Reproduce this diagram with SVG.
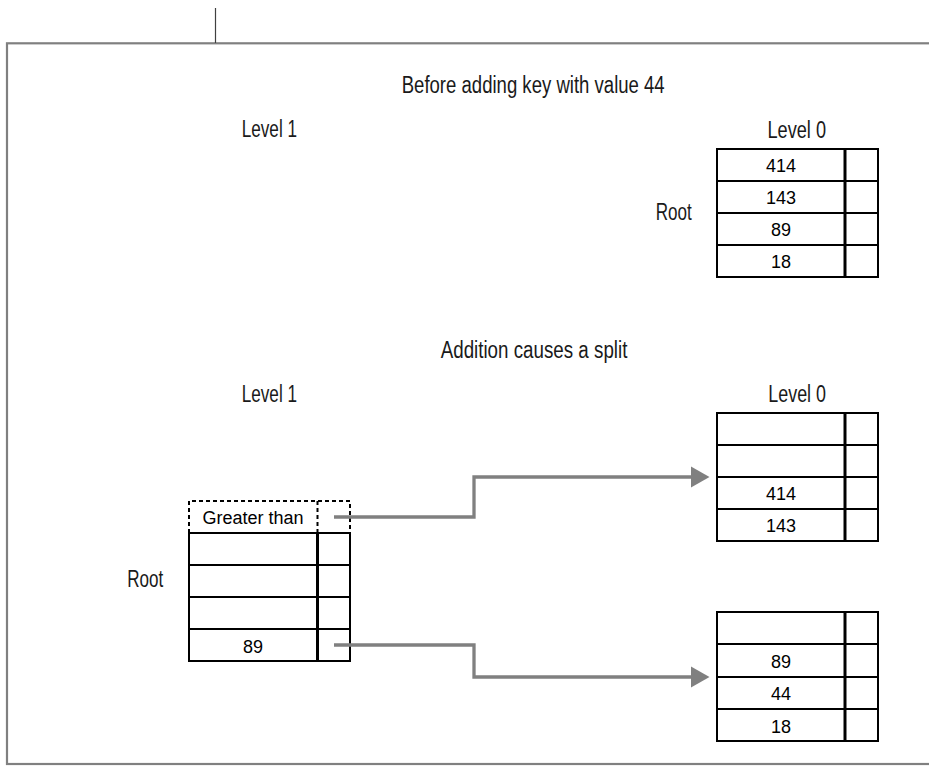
<svg xmlns="http://www.w3.org/2000/svg" width="929" height="768" viewBox="0 0 929 768">
<style>
.lbl{font-family:"Liberation Sans Narrow","Liberation Sans",Arial,sans-serif;font-size:23px;fill:#1a1a1a}
.cell{font-family:"Liberation Sans",Arial,sans-serif;font-size:18px;fill:#000;text-anchor:middle}
.box{fill:#fff;stroke:#000;stroke-width:2}
.row{stroke:#000;stroke-width:2;fill:none}
.div{stroke:#000;stroke-width:3;fill:none}
.dash{stroke:#000;stroke-width:2;fill:none;stroke-dasharray:4 3}
.conn{stroke:#808080;stroke-width:3.3;fill:none}
.head{fill:#808080}
</style>
<rect width="929" height="768" fill="#fff"/>
<g id="frame">
<rect x="7" y="43.3" width="940" height="720.7" fill="none" stroke="#808080" stroke-width="2.2"/>
<line x1="215.5" y1="8" x2="215.5" y2="43" stroke="#404040" stroke-width="1.2"/>
</g>
<g id="labels">
<text class="lbl" x="401.7" y="93.3" textLength="263" lengthAdjust="spacingAndGlyphs">Before adding key with value 44</text>
<text class="lbl" x="241.7" y="136.7" textLength="55.3" lengthAdjust="spacingAndGlyphs">Level 1</text>
<text class="lbl" x="767.5" y="138" textLength="58.5" lengthAdjust="spacingAndGlyphs">Level 0</text>
<text class="lbl" x="655.7" y="220" textLength="36" lengthAdjust="spacingAndGlyphs">Root</text>
<text class="lbl" x="440.7" y="357.7" textLength="186.7" lengthAdjust="spacingAndGlyphs">Addition causes a split</text>
<text class="lbl" x="241.7" y="401.7" textLength="55.3" lengthAdjust="spacingAndGlyphs">Level 1</text>
<text class="lbl" x="768.3" y="401.7" textLength="57.7" lengthAdjust="spacingAndGlyphs">Level 0</text>
<text class="lbl" x="127.3" y="586.7" textLength="36" lengthAdjust="spacingAndGlyphs">Root</text>
</g>
<g id="node-before-root">
<rect class="box" x="717" y="149" width="161" height="128"/>
<path class="row" d="M717,181H878M717,213H878M717,245H878"/>
<line class="div" x1="845" y1="149" x2="845" y2="277"/>
<text class="cell" x="781" y="172.3">414</text>
<text class="cell" x="781" y="204.3">143</text>
<text class="cell" x="781" y="236.3">89</text>
<text class="cell" x="781" y="268.3">18</text>
</g>
<g id="node-split-root">
<path class="dash" d="M189,533V501H350V533M317.5,501V533"/>
<rect class="box" x="189" y="533" width="161" height="128"/>
<path class="row" d="M189,565H350M189,597H350M189,629H350"/>
<line class="div" x1="317.5" y1="533" x2="317.5" y2="661"/>
<text class="cell" x="253" y="524">Greater than</text>
<text class="cell" x="253" y="652.5">89</text>
</g>
<g id="node-upper-leaf">
<rect class="box" x="717" y="413" width="161" height="128"/>
<path class="row" d="M717,445H878M717,477H878M717,509H878"/>
<line class="div" x1="845" y1="413" x2="845" y2="541"/>
<text class="cell" x="781" y="500">414</text>
<text class="cell" x="781" y="532">143</text>
</g>
<g id="node-lower-leaf">
<rect class="box" x="717" y="612" width="161" height="129"/>
<path class="row" d="M717,644H878M717,677H878M717,709H878"/>
<line class="div" x1="845" y1="612" x2="845" y2="741"/>
<text class="cell" x="781" y="667.5">89</text>
<text class="cell" x="781" y="700">44</text>
<text class="cell" x="781" y="732.5">18</text>
</g>
<g id="connectors">
<path class="conn" d="M334,517H474V477H692"/>
<polygon class="head" points="691,466.5 709.5,477 691,487.5"/>
<path class="conn" d="M334,645H474V677H692"/>
<polygon class="head" points="691,666.5 709.5,677 691,687.5"/>
</g>
</svg>
